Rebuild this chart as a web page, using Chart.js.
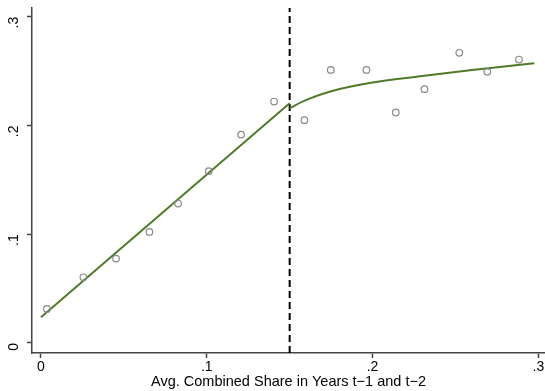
<!DOCTYPE html>
<html>
<head>
<meta charset="utf-8">
<script src="https://cdn.jsdelivr.net/npm/chart.js@4"></script>
<style>
  html, body { margin: 0; padding: 0; background: #fff; }
  #wrap { width: 545px; height: 391px; }
</style>
</head>
<body>
<div id="wrap"><canvas id="shareChart"></canvas></div>
<script>
// binned scatter
const binX = [0.0036, 0.0256, 0.0453, 0.0654, 0.0827, 0.1012, 0.1207, 0.1406,
              0.1589, 0.1748, 0.1963, 0.2140, 0.2313, 0.2523, 0.2692, 0.2883];
const binY = [0.0313, 0.0604, 0.0776, 0.1021, 0.1282, 0.1580, 0.1916, 0.2220,
              0.2049, 0.2511, 0.2511, 0.2119, 0.2334, 0.2668, 0.2493, 0.2606];

// fitted lines, left and right of the cutoff
const cutoff = 0.15;
const fitLeftX = [0, 0.15];
const fitLeftY = [0.0236, 0.2205];
const fitRightX = [0.15, 0.16, 0.175, 0.2, 0.23, 0.26, 0.2975];
const fitRightY = [0.2159, 0.2235, 0.2315, 0.2395, 0.2455, 0.2510, 0.2573];

const xTicks = [0, 0.1, 0.2, 0.3];
const yTicks = [0, 0.1, 0.2, 0.3];
const xTitle = "Avg. Combined Share in Years t\u22121 and t\u22122";

const xMin = -0.0054, xMax = 0.304;
const yMin = -0.0092, yMax = 0.308;

const toPts = (xs, ys) => xs.map((x, i) => ({ x: x, y: ys[i] }));
const fmt = (v) => (v === 0 ? "0" : String(v).replace(/^0/, ""));

const green = "#4f7a28";
const axisColor = "#444";

var ctx = document.getElementById("shareChart").getContext("2d");
var myChart = new Chart(ctx, {
  type: "scatter",
  data: {
    datasets: [
      {
        data: toPts(binX, binY),
        pointStyle: "circle",
        pointRadius: 3.3,
        pointBorderWidth: 1.2,
        pointBorderColor: "#8a8a8a",
        pointBackgroundColor: "rgba(0,0,0,0)",
        showLine: false,
      },
      {
        data: toPts(fitLeftX, fitLeftY),
        showLine: true,
        borderColor: green,
        borderWidth: 2,
        pointRadius: 0,
      },
      {
        data: toPts(fitRightX, fitRightY),
        showLine: true,
        borderColor: green,
        borderWidth: 2,
        pointRadius: 0,
        cubicInterpolationMode: "monotone",
      },
      {
        data: [{ x: cutoff, y: yMin }, { x: cutoff, y: yMax }],
        showLine: true,
        borderColor: "#000",
        borderWidth: 2,
        borderDash: [7, 4],
        pointRadius: 0,
      },
    ],
  },
  options: {
    responsive: true,
    maintainAspectRatio: false,
    animation: false,
    layout: { autoPadding: false, padding: { top: 8, right: 0, left: 0, bottom: 0 } },
    plugins: {
      legend: { display: false },
      tooltip: { enabled: false },
    },
    scales: {
      x: {
        type: "linear",
        min: xMin,
        max: xMax,
        afterBuildTicks: (s) => { s.ticks = xTicks.map((v) => ({ value: v })); },
        afterFit: (s) => { s.height = 38; s.paddingLeft = 0; s.paddingRight = 0; },
        border: { display: true, color: axisColor, width: 1.5 },
        grid: { drawOnChartArea: false, drawTicks: true, tickLength: 5, color: axisColor, tickWidth: 1.5 },
        ticks: {
          color: "#000",
          padding: 1,
          maxRotation: 0,
          font: { family: "Liberation Sans", size: 14 },
          callback: (v) => fmt(v),
        },
        title: {
          display: true,
          text: xTitle,
          color: "#000",
          padding: { top: 0, bottom: 0 },
          font: { family: "Liberation Sans", size: 14.5 },
        },
      },
      y: {
        type: "linear",
        min: yMin,
        max: yMax,
        afterBuildTicks: (s) => { s.ticks = yTicks.map((v) => ({ value: v })); },
        afterFit: (s) => { s.width = 32; s.paddingTop = 0; s.paddingBottom = 0; },
        border: { display: true, color: axisColor, width: 1.5 },
        grid: { drawOnChartArea: false, drawTicks: true, tickLength: 5, color: axisColor, tickWidth: 1.5 },
        ticks: {
          color: "#000",
          padding: 13,
          minRotation: 90,
          maxRotation: 90,
          font: { family: "Liberation Sans", size: 14 },
          callback: (v) => fmt(v),
        },
      },
    },
  },
});
</script>
</body>
</html>
